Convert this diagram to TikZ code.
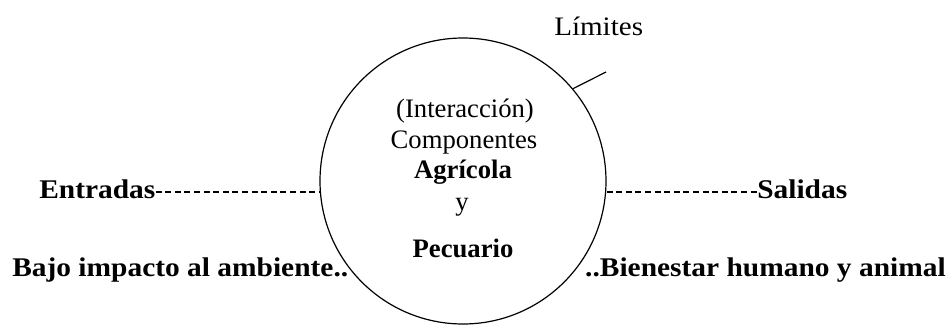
\documentclass[tikz,border=0pt]{standalone}
\usepackage{fontspec}
\setmainfont{Liberation Serif}
\newfontfamily\widefont[FakeStretch=1.09]{Liberation Serif}

\begin{document}
\begin{tikzpicture}[x=0.75pt, y=-0.75pt,
  intext/.style={inner sep=0pt, anchor=base, font=\fontsize{20}{24}\selectfont},
  inbold/.style={intext, font=\bfseries\fontsize{20}{24}\selectfont},
  outtext/.style={inner sep=0pt, font=\widefont\bfseries\fontsize{20.25}{24}\selectfont},
  dashline/.style={line width=0.8pt, dash pattern=on 4.5pt off 2.7pt}]

\useasboundingbox (0,0) rectangle (951,325);

% System boundary
\path
(463,181) node[circle, draw, line width=0.9pt, minimum size=214.5pt, inner sep=0pt] (sys) {};

\path
(554,35) node[inner sep=0pt, anchor=base west, font=\widefont\fontsize{20}{24}\selectfont] (lim) {Límites}
(606,72) coordinate (limtip);

\draw[line width=0.9pt] (sys.40) -- (limtip);


% Components inside the boundary
\path
(465,117) node[intext] (inter) {(Interacción)}
(464,148) node[intext] (comp) {Componentes}
(463,178) node[inbold] (agri) {Agrícola}
(462,210) node[intext] (and) {y}
(463,257) node[inbold] (pecu) {Pecuario};


% Inputs
\path
(39,198) node[outtext, anchor=base west] (ent) {Entradas}
(12,276) node[outtext, anchor=base west] (bajo) {Bajo impacto al ambiente..};

\coordinate (entr) at ([yshift=4.5pt]ent.base east);
\draw[dashline] (entr) -- (entr -| sys.west);


% Outputs
\path
(757,198) node[outtext, anchor=base west] (sal) {Salidas}
(946,276) node[outtext, anchor=base east] (bien) {..Bienestar humano y animal};

\coordinate (salr) at ([yshift=4.5pt]sal.base west);
\draw[dashline] (salr -| sys.east) -- (salr);

\end{tikzpicture}
\end{document}
